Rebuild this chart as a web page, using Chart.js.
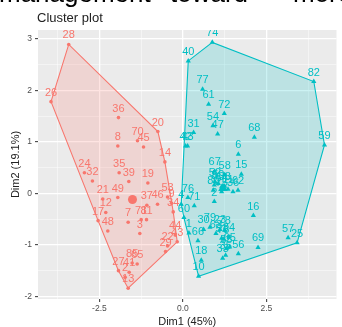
<!DOCTYPE html>
<html><head><meta charset="utf-8">
<script src="https://cdn.jsdelivr.net/npm/chart.js@4/dist/chart.umd.min.js"></script>
<style>
html,body{margin:0;padding:0;background:#fff;overflow:hidden;width:342px;height:327px}
#wrap{position:relative;width:342px;height:327px;overflow:hidden}
canvas{position:absolute;left:0;top:0}
.top{position:absolute;top:-22px;font:26px "Liberation Sans",Arial,sans-serif;color:#000;white-space:nowrap;line-height:normal}
#title{position:absolute;left:37px;top:10px;font:13px "Liberation Sans",Arial,sans-serif;color:#222;line-height:15px;white-space:nowrap}
</style></head>
<body><div id="wrap">
<canvas id="c" width="342" height="327"></canvas>
<div class="top" style="left:-1px">management</div>
<div class="top" style="left:170px">toward</div>
<div class="top" style="left:293px">more</div>
<div id="title">Cluster plot</div>
</div>
<script>
const xTicks = [-2.5, 0, 2.5];
const yTicks = [-2, -1, 0, 1, 2, 3];
const xMinor = [-3.75, -1.25, 1.25, 3.75];
const yMinor = [-1.5, -0.5, 0.5, 1.5, 2.5];

const cluster1Labels = ['28','26','36','20','8','70','45','14','24','32','35','39','19','21','49','12','17','48','7','71','81','3','37','46','53','9','34','44','43','22','29','85','65','27','41','2','13'];
const cluster1X = [-3.42,-3.95,-1.93,-0.75,-1.95,-1.36,-1.18,-0.54,-2.95,-2.71,-1.91,-1.62,-1.05,-2.40,-1.95,-2.31,-2.54,-2.25,-1.64,-1.25,-1.09,-1.29,-1.08,-0.76,-0.46,-0.34,-0.29,-0.23,-0.17,-0.46,-0.52,-1.52,-1.37,-1.93,-1.61,-1.73,-1.64];
const cluster1Y = [2.89,1.78,1.47,1.20,0.92,1.02,0.90,0.61,0.40,0.24,0.40,0.23,0.20,-0.11,-0.08,-0.37,-0.53,-0.73,-0.56,-0.51,-0.51,-0.78,-0.23,-0.21,-0.07,-0.19,-0.36,-0.81,-0.94,-1.02,-1.13,-1.35,-1.37,-1.50,-1.53,-1.63,-1.84];

const cluster2Labels = ['74','40','82','77','61','72','54','47','31','42','43','68','59','6','67','58','15','52','50','8','64','38','11','36','62','80','75','2','76','4','71','60','1','66','18','10','16','57','25','69','56','30','79','63','23','78','84','51','73','55','33','35','65'];
const cluster2X = [0.88,0.16,3.92,0.59,0.77,1.24,0.90,1.04,0.32,0.08,0.14,2.14,4.24,1.66,0.95,1.25,1.75,0.96,1.06,0.94,1.16,1.25,1.35,1.50,1.65,0.91,1.16,0.94,0.15,-0.05,0.34,0.03,0.18,0.45,0.55,0.47,2.11,3.15,3.42,2.25,1.66,0.62,0.81,0.99,1.11,1.25,1.38,1.16,1.21,1.30,1.19,1.28,1.40];
const cluster2Y = [2.93,2.57,2.17,2.02,1.73,1.55,1.31,1.15,1.18,0.92,0.92,1.09,0.94,0.76,0.43,0.36,0.37,0.23,0.19,0.16,0.13,0.14,0.08,0.03,0.06,0.06,0.03,-0.16,-0.08,-0.21,-0.24,-0.47,-0.77,-0.92,-1.30,-1.61,-0.43,-0.86,-0.96,-1.05,-1.17,-0.70,-0.66,-0.78,-0.70,-0.71,-0.84,-0.87,-0.89,-1.07,-1.26,-1.20,-1.04];

const centroid1 = [-1.51, -0.12];
const centroid2 = [1.20, 0.10];

const RED = '#F8766D', BLUE = '#00BFC4';
const FONT = '"Liberation Sans", Arial, sans-serif';

function toPoints(xs, ys){ return xs.map((x,i)=>({x:x, y:ys[i]})); }
function hull(xs, ys){
  const pts = toPoints(xs, ys).sort((a,b)=>a.x-b.x||a.y-b.y);
  const cross=(o,a,b)=>(a.x-o.x)*(b.y-o.y)-(a.y-o.y)*(b.x-o.x);
  const lower=[]; for(const p of pts){ while(lower.length>=2&&cross(lower[lower.length-2],lower[lower.length-1],p)<=0) lower.pop(); lower.push(p); }
  const upper=[]; for(let i=pts.length-1;i>=0;i--){ const p=pts[i]; while(upper.length>=2&&cross(upper[upper.length-2],upper[upper.length-1],p)<=0) upper.pop(); upper.push(p); }
  upper.pop(); lower.pop();
  const h = lower.concat(upper); h.push(h[0]); return h;
}

const bgPlugin = {
  id:'panelBg',
  beforeDraw(chart){
    const {ctx, chartArea:a} = chart;
    ctx.save(); ctx.fillStyle='#EBEBEB'; ctx.fillRect(a.left,a.top,a.right-a.left,a.bottom-a.top); ctx.restore();
  }
};
const labelPlugin = {
  id:'pointLabels',
  afterDatasetsDraw(chart){
    const {ctx, chartArea:a} = chart;
    ctx.save();
    ctx.beginPath(); ctx.rect(a.left,a.top,a.right-a.left,a.bottom-a.top); ctx.clip();
    ctx.font = '11px ' + FONT;
    ctx.textAlign='center'; ctx.textBaseline='middle';
    chart.data.datasets.forEach((ds,i)=>{
      if(!ds.pointLabels) return;
      const meta = chart.getDatasetMeta(i);
      ctx.fillStyle = ds.labelColor;
      meta.data.forEach((el,j)=>{ ctx.fillText(ds.pointLabels[j], el.x, el.y-9); });
    });
    ctx.restore();
  }
};

const xAll = xMinor.concat(xTicks).sort((a,b)=>a-b);
const yAll = yMinor.concat(yTicks).sort((a,b)=>a-b);
const isMajorX = v => xTicks.some(t=>Math.abs(t-v)<1e-9);
const isMajorY = v => yTicks.some(t=>Math.abs(t-v)<1e-9);

function gridOpts(isMajor){
  return {
    drawOnChartArea:true, drawTicks:true, tickLength:3,
    color: c => (c.tick && isMajor(c.tick.value)) ? '#FFFFFF' : 'rgba(255,255,255,0.75)',
    lineWidth: c => (c.tick && isMajor(c.tick.value)) ? 1.3 : 0.6,
    tickColor: c => (c.tick && isMajor(c.tick.value)) ? '#333333' : 'rgba(0,0,0,0)',
    tickWidth: 1
  };
}

new Chart(document.getElementById('c'), {
  type:'scatter',
  data:{ datasets:[
    { type:'scatter', data:toPoints(cluster1X, cluster1Y), pointLabels:cluster1Labels, labelColor:RED,
      pointStyle:'circle', pointRadius:1.8, backgroundColor:RED, borderWidth:0, order:1 },
    { type:'scatter', data:toPoints(cluster2X, cluster2Y), pointLabels:cluster2Labels, labelColor:BLUE,
      pointStyle:'triangle', pointRadius:3, backgroundColor:BLUE, borderWidth:0, order:1 },
    { type:'scatter', data:[{x:centroid1[0], y:centroid1[1]}], pointStyle:'circle', pointRadius:4.5, backgroundColor:RED, borderWidth:0, order:0 },
    { type:'scatter', data:[{x:centroid2[0], y:centroid2[1]}], pointStyle:'triangle', pointRadius:5.5, backgroundColor:BLUE, borderWidth:0, order:0 },
    { type:'line', data:hull(cluster1X, cluster1Y), borderColor:RED, borderWidth:1.1, backgroundColor:'rgba(248,118,109,0.2)', fill:'shape', pointRadius:0, tension:0, order:10 },
    { type:'line', data:hull(cluster2X, cluster2Y), borderColor:BLUE, borderWidth:1.1, backgroundColor:'rgba(0,191,196,0.2)', fill:'shape', pointRadius:0, tension:0, order:10 }
  ]},
  options:{
    responsive:false, animation:false, events:[], devicePixelRatio:1,
    layout:{ padding:{ top:30, left:0, right:0, bottom:0 } },
    plugins:{ legend:{display:false}, tooltip:{enabled:false}, title:{display:false} },
    scales:{
      x:{ type:'linear', min:-4.34, max:4.60,
        afterBuildTicks: s => { s.ticks = xAll.map(v=>({value:v})); },
        afterFit: s => { s.height = 28; },
        ticks:{ autoSkip:false, maxRotation:0, padding:2, color:'#4D4D4D', font:{family:FONT, size:8.5},
          callback: v => isMajorX(v) ? v.toFixed(1) : '' },
        grid: gridOpts(isMajorX), border:{display:false},
        title:{ display:true, text:'Dim1 (45%)', color:'#222', font:{family:FONT, size:11, lineHeight:1}, padding:{top:0,bottom:0} }
      },
      y:{ type:'linear', min:-2.05, max:3.17,
        afterBuildTicks: s => { s.ticks = yAll.map(v=>({value:v})); },
        afterFit: s => { s.width = 38; },
        ticks:{ autoSkip:false, padding:3, color:'#4D4D4D', font:{family:FONT, size:8.5},
          callback: v => isMajorY(v) ? String(v) : '' },
        grid: gridOpts(isMajorY), border:{display:false},
        title:{ display:true, text:'Dim2 (19.1%)', color:'#222', font:{family:FONT, size:11, lineHeight:1}, padding:{top:10,bottom:0} }
      }
    }
  },
  plugins:[bgPlugin, labelPlugin]
});
</script>
</body></html>
